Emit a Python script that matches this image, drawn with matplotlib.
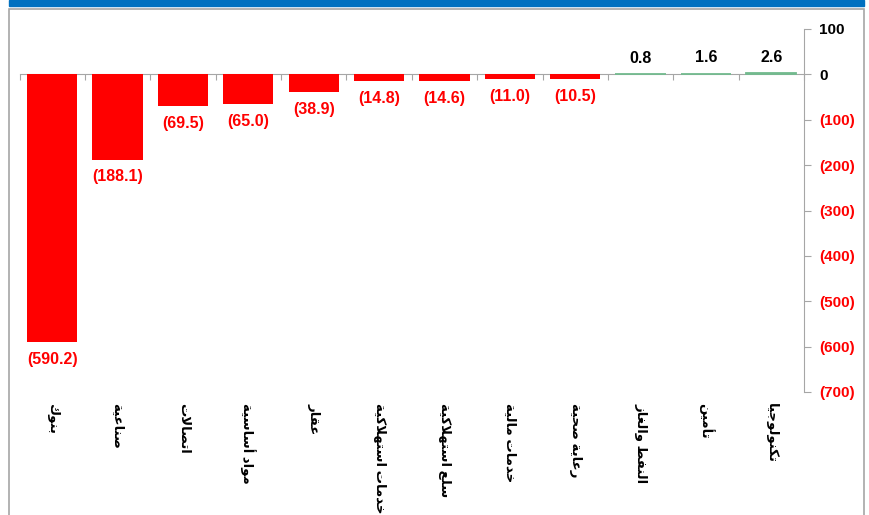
import matplotlib
matplotlib.use("Agg")
import matplotlib.pyplot as plt
from matplotlib.patches import Rectangle
import matplotlib.transforms as mtransforms

# ----------------------------
# Data
# ----------------------------
categories = [
    "بنوك", "صناعية", "اتصالات", "مواد أساسية", "عقار", "خدمات استهلاكية",
    "سلع استهلاكية", "خدمات مالية", "رعاية صحية", "النفط والغاز", "تأمين",
    "تكنولوجيا",
]
values = [-590.2, -188.1, -69.5, -65.0, -38.9, -14.8, -14.6, -11.0, -10.5, 0.8, 1.6, 2.6]
y_ticks = [100, 0, -100, -200, -300, -400, -500, -600, -700]

RED = "#FF0000"
GREEN = "#72BA8E"
GRAY = "#A6A6A6"
BLUE = "#0070C0"

# ----------------------------
# Minimal Arabic shaping (presentation forms B), no external libs
# ----------------------------
# forms: (isolated, final, initial, medial); right-joining letters have 2 forms
FORMS = {
    "ا": ("\uFE8D", "\uFE8E"), "أ": ("\uFE83", "\uFE84"),
    "د": ("\uFEA9", "\uFEAA"), "ر": ("\uFEAD", "\uFEAE"),
    "ز": ("\uFEAF", "\uFEB0"), "و": ("\uFEED", "\uFEEE"),
    "ة": ("\uFE93", "\uFE94"),
    "ب": ("\uFE8F", "\uFE90", "\uFE91", "\uFE92"),
    "ت": ("\uFE95", "\uFE96", "\uFE97", "\uFE98"),
    "ج": ("\uFE9D", "\uFE9E", "\uFE9F", "\uFEA0"),
    "ح": ("\uFEA1", "\uFEA2", "\uFEA3", "\uFEA4"),
    "خ": ("\uFEA5", "\uFEA6", "\uFEA7", "\uFEA8"),
    "س": ("\uFEB1", "\uFEB2", "\uFEB3", "\uFEB4"),
    "ص": ("\uFEB9", "\uFEBA", "\uFEBB", "\uFEBC"),
    "ط": ("\uFEC1", "\uFEC2", "\uFEC3", "\uFEC4"),
    "ع": ("\uFEC9", "\uFECA", "\uFECB", "\uFECC"),
    "غ": ("\uFECD", "\uFECE", "\uFECF", "\uFED0"),
    "ف": ("\uFED1", "\uFED2", "\uFED3", "\uFED4"),
    "ق": ("\uFED5", "\uFED6", "\uFED7", "\uFED8"),
    "ك": ("\uFED9", "\uFEDA", "\uFEDB", "\uFEDC"),
    "ل": ("\uFEDD", "\uFEDE", "\uFEDF", "\uFEE0"),
    "م": ("\uFEE1", "\uFEE2", "\uFEE3", "\uFEE4"),
    "ن": ("\uFEE5", "\uFEE6", "\uFEE7", "\uFEE8"),
    "ه": ("\uFEE9", "\uFEEA", "\uFEEB", "\uFEEC"),
    "ي": ("\uFEF1", "\uFEF2", "\uFEF3", "\uFEF4"),
}
LAM_ALEF = {"ا": ("\uFEFB", "\uFEFC"), "أ": ("\uFEF7", "\uFEF8")}


def shape_arabic(text):
    tokens = []
    i = 0
    while i < len(text):
        c = text[i]
        if c == "ل" and i + 1 < len(text) and text[i + 1] in LAM_ALEF:
            tokens.append(LAM_ALEF[text[i + 1]])
            i += 2
            continue
        tokens.append(FORMS.get(c, c))
        i += 1
    out = []
    for k, tok in enumerate(tokens):
        if isinstance(tok, str):
            out.append(tok)
            continue
        prev = tokens[k - 1] if k > 0 else None
        nxt = tokens[k + 1] if k + 1 < len(tokens) else None
        join_prev = isinstance(prev, tuple) and len(prev) == 4
        join_next = len(tok) == 4 and isinstance(nxt, tuple)
        if join_prev and join_next:
            out.append(tok[3])
        elif join_prev:
            out.append(tok[1])
        elif join_next:
            out.append(tok[2])
        else:
            out.append(tok[0])
    # visual order for left-to-right drawing
    return "".join(out)[::-1]


def fmt(v):
    return f"({abs(v):.1f})" if v < 0 else f"{v:.1f}"


def tick_fmt(v):
    return f"({abs(v)})" if v < 0 else f"{v}"


# ----------------------------
# Figure
# ----------------------------
plt.rcParams["font.family"] = ["Liberation Sans", "DejaVu Sans"]

W, H = 869, 515
fig = plt.figure(figsize=(W / 100, H / 100), dpi=100)

# blue band and grey frame
fig.patches.append(Rectangle((9 / W, 1 - 6 / H), 855 / W, 6 / H,
                             transform=fig.transFigure, color=BLUE, zorder=0))
fig.patches.append(Rectangle((9 / W, -0.05), 855 / W, 1 - 9 / H + 0.05,
                             transform=fig.transFigure, fill=False,
                             edgecolor=GRAY, linewidth=1.2, zorder=0))

ax = fig.add_axes([19.5 / W, 1 - 392 / H, (804 - 19.5) / W, (392 - 29) / H])
n = len(values)
x = list(range(n))
colors = [RED if v < 0 else GREEN for v in values]
bars = ax.bar(x, values, width=0.77, color=colors, zorder=2)
# tiny positive bars: give them a visible edge like the original
for b, v in zip(bars, values):
    if v > 0:
        b.set_edgecolor(GREEN)
        b.set_linewidth(1.3)

ax.set_xlim(-0.5, n - 0.5)
ax.set_ylim(-700, 100)

for s in ["left", "top"]:
    ax.spines[s].set_visible(False)
ax.spines["bottom"].set_position(("data", 0))
ax.spines["bottom"].set_color(GRAY)
ax.spines["right"].set_color(GRAY)
ax.spines["bottom"].set_zorder(1)

ax.set_xticks([i - 0.5 for i in range(n + 1)])
ax.set_xticklabels([])
ax.tick_params(axis="x", direction="out", length=4, color=GRAY)

ax.yaxis.tick_right()
ax.set_yticks(y_ticks)
ax.set_yticklabels([tick_fmt(t) for t in y_ticks], fontsize=11, fontweight="bold")
ax.tick_params(axis="y", direction="out", length=5, color=GRAY, pad=6)
for lab, t in zip(ax.get_yticklabels(), y_ticks):
    lab.set_color(RED if t < 0 else "black")

# value labels
for xi, v in zip(x, values):
    if v < 0:
        ax.annotate(fmt(v), (xi, v), xytext=(0, -7), textcoords="offset points",
                    ha="center", va="top", color=RED, fontsize=11.5, fontweight="bold")
    else:
        ax.annotate(fmt(v), (xi, v), xytext=(0, 6), textcoords="offset points",
                    ha="center", va="bottom", color="black", fontsize=11.5,
                    fontweight="bold")

# category labels (rotated, below the plot)
trans = mtransforms.blended_transform_factory(ax.transData, ax.transAxes)
for xi, name in zip(x, categories):
    ax.text(xi, -0.03, shape_arabic(name), transform=trans, rotation=-90,
            ha="center", va="top", fontsize=9.5, fontweight="bold")

fig.savefig("out.png", dpi=100)
